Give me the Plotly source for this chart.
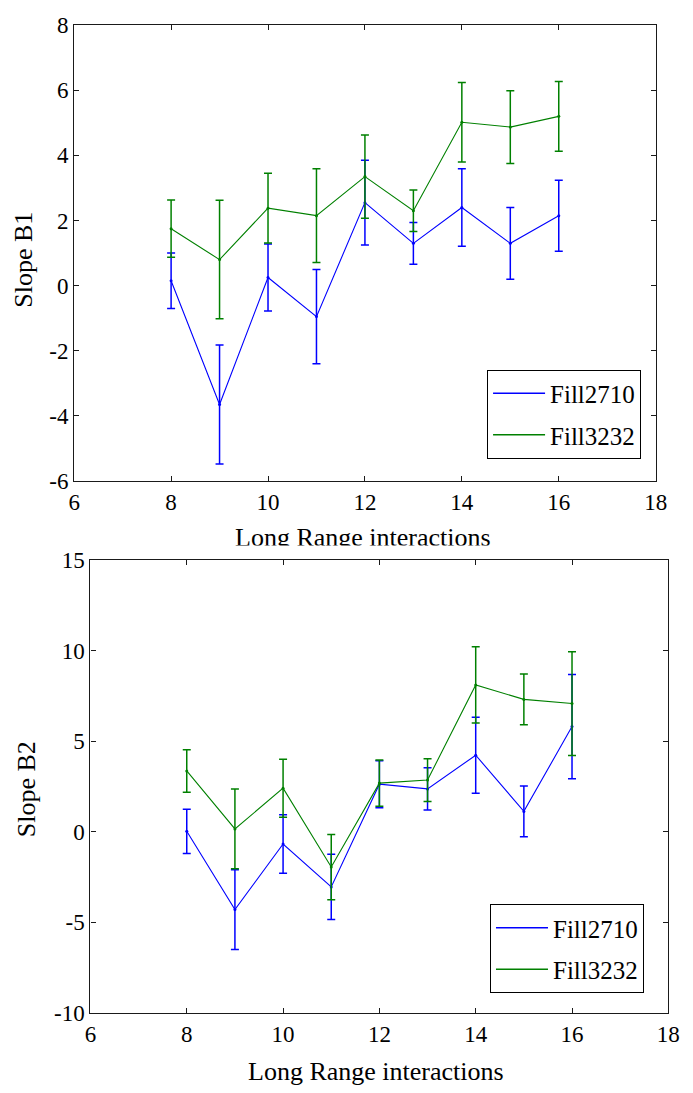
import plotly.graph_objects as go

# Interaction counts on the x axis
lr_interactions = [8, 9, 10, 11, 12, 13, 14, 15, 16]

# Slope B1 per fill, with error bar half-widths
b1_fill2710 = [0.15, -3.65, 0.25, -0.95, 2.55, 1.3, 2.4, 1.3, 2.15]
b1_fill2710_err = [0.85, 1.83, 1.03, 1.45, 1.3, 0.64, 1.19, 1.1, 1.09]
b1_fill3232 = [1.75, 0.8, 2.38, 2.15, 3.35, 2.3, 5.02, 4.87, 5.2]
b1_fill3232_err = [0.88, 1.82, 1.07, 1.44, 1.28, 0.64, 1.22, 1.12, 1.07]

# Slope B2 per fill, with error bar half-widths
b2_fill2710 = [0.02, -4.3, -0.68, -3.05, 2.62, 2.36, 4.22, 1.12, 5.8]
b2_fill2710_err = [1.22, 2.2, 1.62, 1.8, 1.3, 1.17, 2.1, 1.4, 2.88]
b2_fill3232 = [3.35, 0.15, 2.4, -1.95, 2.68, 2.85, 8.1, 7.3, 7.07]
b2_fill3232_err = [1.17, 2.2, 1.6, 1.8, 1.28, 1.18, 2.1, 1.4, 2.86]

x_ticks = [6, 8, 10, 12, 14, 16, 18]
b1_ticks = [-6, -4, -2, 0, 2, 4, 6, 8]
b2_ticks = [-10, -5, 0, 5, 10, 15]

W, H = 693, 1093
BLUE = "#0000ff"
GREEN = "#008000"
SERIF = "Liberation Serif, Times New Roman, serif"


def px_x(p):
    return p / W


def px_y(p):
    return 1 - p / H


def series(x, y, err, color, name, xa, ya):
    return go.Scatter(
        x=x, y=y, name=name, mode="lines+markers", showlegend=False,
        xaxis=xa, yaxis=ya,
        line=dict(color=color, width=1.1),
        marker=dict(color=color, size=3),
        error_y=dict(type="data", array=err, visible=True,
                     color=color, thickness=1.5, width=4),
    )


def legend_entry(color, name, xa, ya, legend):
    # plain line sample for the legend box
    return go.Scatter(
        x=[None], y=[None], name=name, mode="lines",
        xaxis=xa, yaxis=ya, legend=legend, legendgroup=name + legend,
        line=dict(color=color, width=1.5),
    )


fig = go.Figure()
fig.add_trace(series(lr_interactions, b1_fill2710, b1_fill2710_err, BLUE, "Fill2710", "x", "y"))
fig.add_trace(series(lr_interactions, b1_fill3232, b1_fill3232_err, GREEN, "Fill3232", "x", "y"))
fig.add_trace(series(lr_interactions, b2_fill2710, b2_fill2710_err, BLUE, "Fill2710", "x2", "y2"))
fig.add_trace(series(lr_interactions, b2_fill3232, b2_fill3232_err, GREEN, "Fill3232", "x2", "y2"))
fig.add_trace(legend_entry(BLUE, "Fill2710", "x", "y", "legend"))
fig.add_trace(legend_entry(GREEN, "Fill3232", "x", "y", "legend"))
fig.add_trace(legend_entry(BLUE, "Fill2710", "x2", "y2", "legend2"))
fig.add_trace(legend_entry(GREEN, "Fill3232", "x2", "y2", "legend2"))


def tick_text(vals):
    return [str(v) for v in vals]


axis_common = dict(
    showline=True, linecolor="#1a1a1a", linewidth=1.3, mirror="ticks",
    ticks="inside", ticklen=5, tickwidth=1.1, tickcolor="#1a1a1a",
    showgrid=False, zeroline=False,
    tickfont=dict(family=SERIF, size=23, color="black"),
)

legend_common = dict(
    bgcolor="white", bordercolor="black", borderwidth=1,
    font=dict(family=SERIF, size=25, color="black"),
    xanchor="right", yanchor="bottom", tracegroupgap=6,
    traceorder="grouped", itemwidth=52,
)

fig.update_layout(
    width=W, height=H,
    margin=dict(l=0, r=0, t=0, b=0),
    paper_bgcolor="white", plot_bgcolor="white",
    xaxis=dict(domain=[px_x(70), px_x(667)], range=[6, 18], tickvals=x_ticks,
               ticktext=tick_text(x_ticks), anchor="y", **axis_common),
    yaxis=dict(domain=[px_y(480), px_y(13.5)], range=[-6, 8], tickvals=b1_ticks,
               ticktext=tick_text(b1_ticks), anchor="x", ticklabelstandoff=0,
               **axis_common),
    xaxis2=dict(domain=[px_x(86.7), px_x(680)], range=[6, 18], tickvals=x_ticks,
                ticktext=tick_text(x_ticks), anchor="y2", **axis_common),
    yaxis2=dict(domain=[px_y(1024.3), px_y(560.7)], range=[-10, 15], tickvals=b2_ticks,
                ticktext=tick_text(b2_ticks), anchor="x2", ticklabelstandoff=0,
                **axis_common),
    legend=dict(x=px_x(652), y=px_y(457), **legend_common),
    legend2=dict(x=px_x(655), y=px_y(1004), **legend_common),
    showlegend=True,
)

title_font = dict(family=SERIF, size=26, color="black")
fig.add_annotation(text="Slope B1", textangle=-90, xref="paper", yref="paper",
                   x=px_x(18), y=px_y(254), xanchor="center", yanchor="middle",
                   showarrow=False, font=title_font)
fig.add_annotation(text="Slope B2", textangle=-90, xref="paper", yref="paper",
                   x=px_x(21), y=px_y(795), xanchor="center", yanchor="middle",
                   showarrow=False, font=title_font)
fig.add_annotation(text="Long Range interactions", xref="paper", yref="paper",
                   x=px_x(367), y=px_y(538), xanchor="center", yanchor="middle",
                   showarrow=False, font=title_font)
# white strip trimming the lower part of the upper x title
fig.add_annotation(text=" ", xref="paper", yref="paper",
                   x=px_x(367), y=px_y(545), xanchor="center", yanchor="top",
                   width=290, height=12, bgcolor="white", borderpad=0,
                   showarrow=False, font=dict(size=4))
fig.add_annotation(text="Long Range interactions", xref="paper", yref="paper",
                   x=px_x(380), y=px_y(1084), xanchor="center", yanchor="middle",
                   showarrow=False, font=title_font)

fig.write_html("out.html")
